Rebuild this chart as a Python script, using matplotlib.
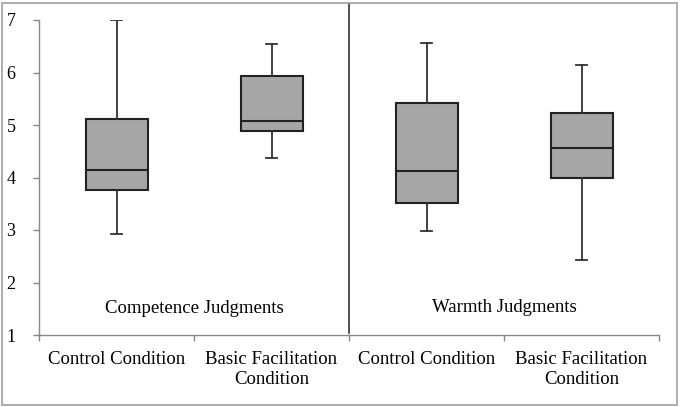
import matplotlib
matplotlib.use("Agg")
import matplotlib.pyplot as plt
from matplotlib.patches import Rectangle

plt.rcParams['font.family'] = ['Liberation Serif', 'DejaVu Serif']

categories = ["Control Condition", "Basic Facilitation\nCondition",
              "Control Condition", "Basic Facilitation\nCondition"]
groups = ["Competence Judgments", "Warmth Judgments"]
whisker_low = [2.92, 4.38, 2.99, 2.43]
q1 = [3.76, 4.88, 3.51, 4.00]
median = [4.15, 5.07, 4.13, 4.57]
q3 = [5.11, 5.94, 5.42, 5.22]
whisker_high = [7.00, 6.54, 6.57, 6.14]
yticks = [1, 2, 3, 4, 5, 6, 7]

W, H = 680, 407
fig = plt.figure(figsize=(W / 100, H / 100), dpi=100)
ax = fig.add_axes([39 / W, 1 - 335 / H, (659 - 39) / W, (335 - 20) / H])

stats = []
for i in range(4):
    stats.append(dict(whislo=whisker_low[i], q1=q1[i], med=median[i],
                      q3=q3[i], whishi=whisker_high[i], fliers=[]))
pos = list(range(4))
ax.bxp(stats, positions=pos, widths=0.4, patch_artist=True, showfliers=False,
       boxprops=dict(facecolor='#a6a6a6', edgecolor='#222222', linewidth=1.5),
       medianprops=dict(color='#222222', linewidth=1.5),
       whiskerprops=dict(color='#333333', linewidth=1.3),
       capprops=dict(color='#333333', linewidth=1.3),
       capwidths=0.07)

ax.set_xlim(-0.5, 3.5)
ax.set_ylim(1, 7)
ax.set_yticks(yticks)
ax.set_yticklabels([str(v) for v in yticks])
ax.set_xticks(pos)
ax.set_xticklabels(categories, fontsize=13.5, linespacing=1.25)
ax.set_xticks([-0.5, 0.5, 1.5, 2.5, 3.5], minor=True)
ax.tick_params(axis='x', which='major', length=0, pad=11.5)
ax.tick_params(axis='x', which='minor', length=4, color='#888888', width=1)
ax.tick_params(axis='y', length=4, color='#888888', width=1, labelsize=13, pad=13)

for s in ['top', 'right']:
    ax.spines[s].set_visible(False)
for s in ['left', 'bottom']:
    ax.spines[s].set_color('#888888')
    ax.spines[s].set_linewidth(1.0)

# divider between panels
ax.plot([1.5, 1.5], [1.03, 7.3], color='#333333', linewidth=1.2, clip_on=False)

ax.text(0.5, 1.5, groups[0], ha='center', va='center', fontsize=13.5)
ax.text(2.5, 1.53, groups[1], ha='center', va='center', fontsize=13.5)

# figure border
fig.add_artist(Rectangle((2 / W, 2 / H), (W - 5) / W, (H - 5) / H,
                         transform=fig.transFigure, fill=False,
                         edgecolor='#a0a0a0', linewidth=1.2))

fig.savefig("out.png", dpi=100)
